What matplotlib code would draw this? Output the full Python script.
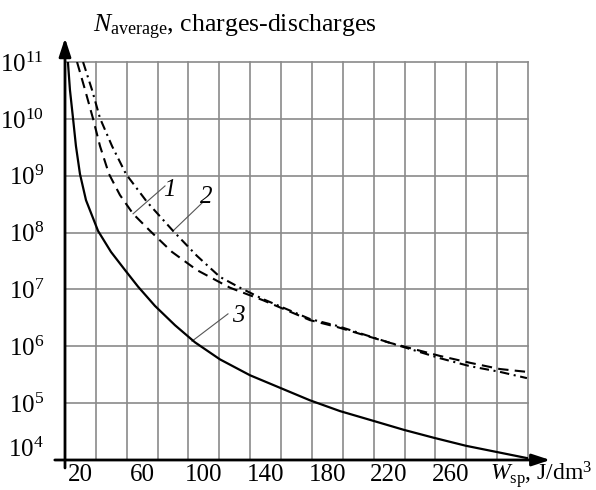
import numpy as np
import matplotlib
matplotlib.use('Agg')
import matplotlib.pyplot as plt
from matplotlib.transforms import ScaledTranslation

plt.rcParams['font.family'] = ['Liberation Serif', 'DejaVu Serif']
plt.rcParams['mathtext.fontset'] = 'custom'
plt.rcParams['mathtext.rm'] = 'Liberation Serif'
plt.rcParams['mathtext.it'] = 'Liberation Serif:italic'

# curve 3 (solid)
w3 = [11.9, 13.2, 15.2, 17.1, 19.7, 23.6, 31.4, 39.8, 48.9, 57.3, 68.3, 81.3,
      94.2, 110.4, 129.9, 149.3, 168.7, 188.2, 209.6, 229.6, 249.1, 269.8, 289.9, 310.0]
n3_exp = [11.0, 10.51, 10.01, 9.52, 9.03, 8.57, 8.03, 7.66, 7.34, 7.05, 6.71, 6.37,
          6.07, 5.77, 5.49, 5.27, 5.05, 4.86, 4.69, 4.53, 4.39, 4.25, 4.14, 4.03]
# curve 1 (dashed)
w1 = [17.8, 23.0, 28.1, 32.7, 38.5, 45.6, 54.1, 65.1, 79.3, 95.5, 116.9, 138.3,
      168.7, 186.2, 220.6, 253.0, 272.4, 291.8, 309.3]
n1_exp = [11.0, 10.51, 10.01, 9.52, 9.03, 8.66, 8.33, 8.03, 7.66, 7.34, 7.03, 6.81,
          6.46, 6.34, 6.06, 5.83, 5.71, 5.60, 5.55]
# curve 2 (dash-dot)
w2 = [21.7, 27.5, 32.7, 40.5, 49.5, 63.1, 80.0, 95.5, 110.4, 123.4, 138.3,
      168.7, 186.2, 220.6, 253.0, 272.4, 291.8, 309.3]
n2_exp = [11.0, 10.51, 10.01, 9.52, 9.03, 8.54, 8.03, 7.59, 7.22, 7.03, 6.83,
          6.48, 6.36, 6.06, 5.79, 5.65, 5.55, 5.44]

x_ticks = [20, 60, 100, 140, 180, 220, 260]
y_exps = [4, 5, 6, 7, 8, 9, 10, 11]
x_grid = list(range(30, 311, 20))

fig = plt.figure(figsize=(5.96, 4.90), dpi=100)
ax = fig.add_axes([65/596, 30/490, 463/596, 398/490])
ax.set_yscale('log')
ax.set_xlim(10, 310)
ax.set_ylim(1e4, 1e11)

grid_c = '#8a8a8a'
for xv in x_grid:
    ax.axvline(xv, color=grid_c, lw=1.2, clip_on=False, zorder=1)
for e in y_exps[1:]:
    ax.axhline(10.0**e, color=grid_c, lw=1.2, clip_on=False, zorder=1)

ax.plot(w3, 10.0**np.array(n3_exp), color='k', lw=1.6, zorder=3)
ax.plot(w1, 10.0**np.array(n1_exp), color='k', lw=1.5, dashes=(5, 3), zorder=3)
ax.plot(w2, 10.0**np.array(n2_exp), color='k', lw=1.5, dashes=(4.5, 2.2, 1, 2.2), zorder=3)

# leaders and curve numbers
lead_c = '#555555'
ax.plot([54.1, 74.8], [10**8.33, 10**8.82], color=lead_c, lw=0.8, zorder=2)
ax.plot([80.0, 98.8], [10**8.03, 10**8.52], color=lead_c, lw=0.8, zorder=2)
ax.plot([92.3, 115.6], [10**6.09, 10**6.57], color=lead_c, lw=0.8, zorder=2)
ax.text(77.8, 10**8.74, '1', style='italic', fontsize=18, ha='center', va='center')
ax.text(101.8, 10**8.62, '2', style='italic', fontsize=18, ha='center', va='center')
ax.text(122.0, 10**6.53, '3', style='italic', fontsize=18, ha='center', va='center')

for s in ax.spines.values():
    s.set_visible(False)

ax.set_xticks(x_ticks)
ax.set_xticklabels([str(v) for v in x_ticks], fontsize=18)
ax.tick_params(axis='x', length=0, pad=3)
ax.set_yticks([10.0**e for e in y_exps])
ax.set_yticklabels([r'$10^{%d}$' % e for e in y_exps], fontsize=18)
ax.tick_params(axis='y', length=0, pad=15)
ax.minorticks_off()
lab = ax.get_yticklabels()[0]
lab.set_transform(lab.get_transform() + ScaledTranslation(0, 9/72, fig.dpi_scale_trans))

# axis arrows
arrow = dict(arrowstyle='-|>,head_length=0.55,head_width=0.18', lw=2, color='k',
             mutation_scale=20, shrinkA=0, shrinkB=0)
ax.annotate('', xy=(0, 1.06), xytext=(0, -0.02), xycoords='axes fraction',
            arrowprops=arrow, annotation_clip=False)
ax.annotate('', xy=(1.048, 0), xytext=(-0.022, 0), xycoords='axes fraction',
            arrowprops=arrow, annotation_clip=False)

fig.text(93/596, 1 - 32/490, r'$N_{\mathrm{average}}$, charges-discharges',
         fontsize=18.5, ha='left', va='baseline')
fig.text(592/596, 1 - 480/490, r'$W_{\mathrm{sp}}$, J/dm$^3$',
         fontsize=17, ha='right', va='baseline')

fig.savefig('out.png', dpi=100)
